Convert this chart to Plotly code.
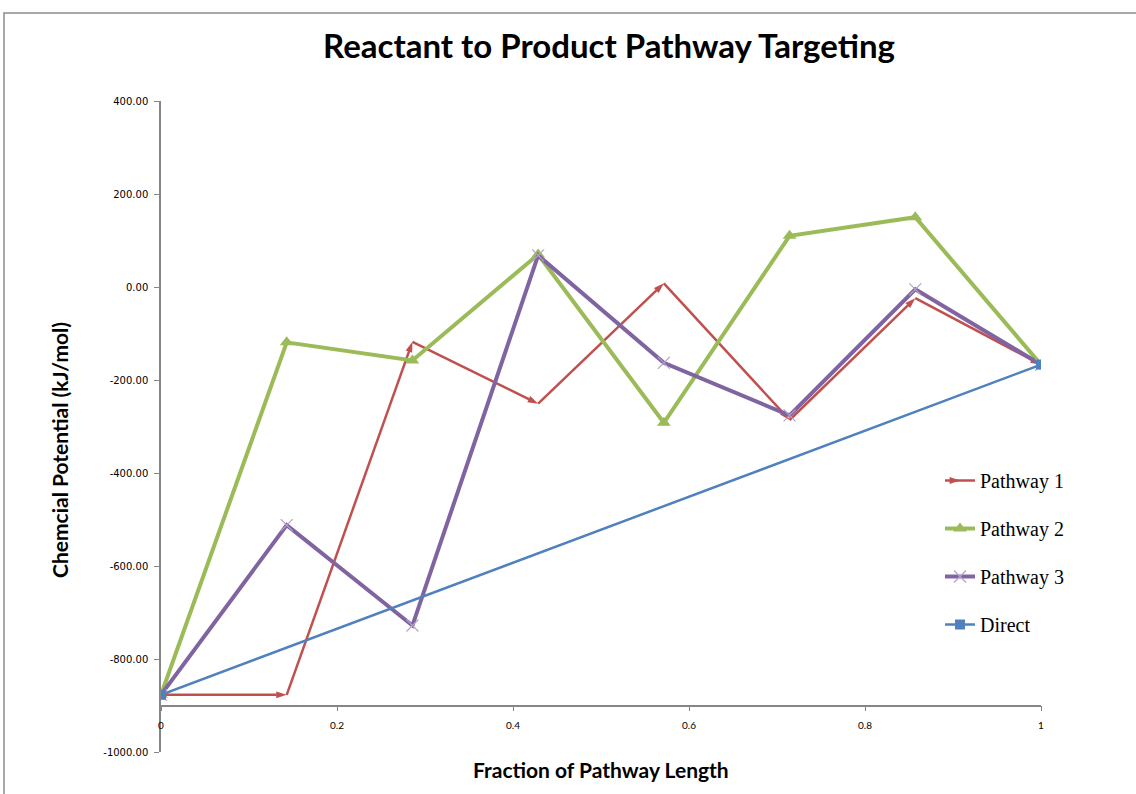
import plotly.graph_objects as go

x_frac = [0, 0.142857, 0.285714, 0.428571, 0.571429, 0.714286, 0.857143, 1]
pathway1 = [-877, -877, -118, -251, 8, -286, -24, -167]
pathway2 = [-877, -119, -158, 70, -292, 110, 150, -167]
pathway3 = [-877, -512, -728, 68, -163, -276, -5, -167]
direct_x = [0, 1]
direct_y = [-877, -167]
y_ticks = [-1000, -800, -600, -400, -200, 0, 200, 400]
y_tick_labels = ["-1000.00", "-800.00", "-600.00", "-400.00", "-200.00", "0.00", "200.00", "400.00"]
x_ticks = [0, 0.2, 0.4, 0.6, 0.8, 1]
x_tick_labels = ["0", "0.2", "0.4", "0.6", "0.8", "1"]

W, H = 1136, 794
L, R, T, B = 161, 95, 101, 42
pw, ph = W - L - R, H - T - B

def px(xp):
    return (xp - L) / pw

def py(yp):
    return (H - B - yp) / ph

fig = go.Figure()
fig.add_trace(go.Scatter(
    x=x_frac, y=pathway1, name="Pathway 1", mode="lines+markers",
    line=dict(color="#C0504D", width=2.5),
    marker=dict(symbol="arrow", size=11, color="#C0504D", angleref="previous"),
    legendgroup="a"))
fig.add_trace(go.Scatter(
    x=x_frac, y=pathway2, name="Pathway 2", mode="lines+markers",
    line=dict(color="#9BBB59", width=4),
    marker=dict(symbol="triangle-up", size=12, color="#9BBB59"),
    legendgroup="b"))
fig.add_trace(go.Scatter(
    x=x_frac, y=pathway3, name="Pathway 3", mode="lines+markers",
    line=dict(color="#8064A2", width=4),
    marker=dict(symbol="x-thin", size=12, color="#B3A2C7",
                line=dict(color="#B3A2C7", width=1.2)),
    legendgroup="c"))
fig.add_trace(go.Scatter(
    x=direct_x, y=direct_y, name="Direct", mode="lines+markers",
    line=dict(color="#4F81BD", width=2.5),
    marker=dict(symbol="square", size=10, color="#4F81BD"),
    legendgroup="d"))

axis_col = "#868686"
tick_font = dict(family="DejaVu Sans", size=10, color="#000000")

fig.update_layout(
    width=W, height=H,
    margin=dict(l=L, r=R, t=T, b=B),
    paper_bgcolor="white", plot_bgcolor="white",
    title=dict(text="<b>Reactant to Product Pathway Targeting</b>",
               font=dict(family="Lato", size=33, color="#000000"),
               xref="container", yref="container",
               x=609 / W, y=1 - 46 / H, xanchor="center", yanchor="middle"),
    xaxis=dict(range=[0, 1], tickvals=x_ticks, ticktext=x_tick_labels,
               showgrid=False, zeroline=False,
               showline=True, linecolor=axis_col, linewidth=1.5,
               ticks="outside", ticklen=5, tickcolor=axis_col,
               anchor="free", position=100 / 1400,
               tickfont=dict(family="Lato", size=10, color="#000000"),
               ticklabelstandoff=6),
    yaxis=dict(range=[-1000, 400], tickvals=y_ticks, ticktext=y_tick_labels,
               showgrid=False, zeroline=False,
               showline=True, linecolor=axis_col, linewidth=1.5,
               ticks="outside", ticklen=5, tickcolor=axis_col,
               tickfont=tick_font, ticklabelstandoff=4),
    legend=dict(x=px(940), y=py(461), xanchor="left", yanchor="top",
                font=dict(family="Liberation Serif", size=20, color="#000000"),
                traceorder="grouped", tracegroupgap=19, itemwidth=30,
                bgcolor="rgba(0,0,0,0)"),
    showlegend=True,
    annotations=[
        dict(text="<b>Fraction of Pathway Length</b>", xref="paper", yref="paper",
             x=px(601), y=py(769), showarrow=False, xanchor="center", yanchor="middle",
             font=dict(family="Lato", size=21, color="#000000")),
        dict(text="<b>Chemcial Potential (kJ/mol)</b>", xref="paper", yref="paper",
             x=px(60), y=py(450), showarrow=False, xanchor="center", yanchor="middle",
             textangle=-90, font=dict(family="Lato", size=21, color="#000000")),
    ],
    shapes=[
        dict(type="rect", xref="paper", yref="paper",
             x0=px(4), x1=px(1145), y0=py(800), y1=py(13),
             line=dict(color="#8C8C8C", width=1.5), fillcolor="rgba(0,0,0,0)", layer="below"),
    ],
)

fig.write_html("out.html", config={"displayModeBar": False},
               post_script="document.body.style.margin='0px';document.body.style.overflow='hidden';")
